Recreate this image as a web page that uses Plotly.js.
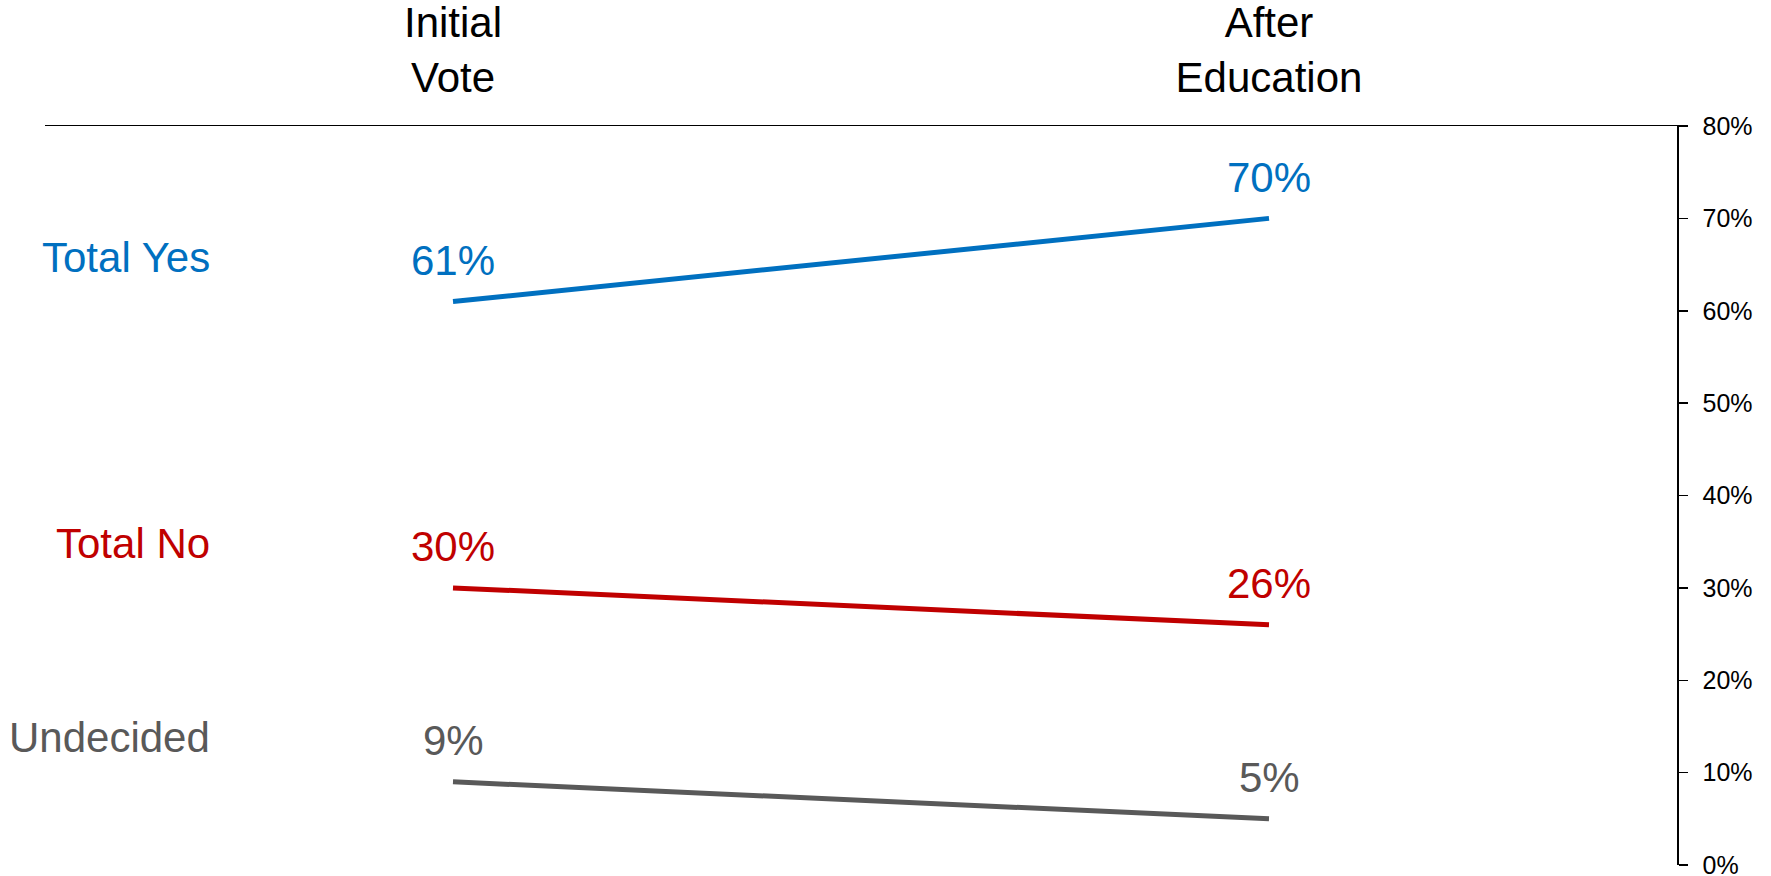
<!DOCTYPE html>
<html>
<head>
<meta charset="utf-8">
<script src="https://cdn.plot.ly/plotly-3.0.1.min.js"></script>
<style>
  html, body { margin: 0; padding: 0; background: #ffffff; }
  #chart { width: 1771px; height: 876px; }
</style>
</head>
<body>
<div id="chart"></div>
<script>
// ---- data ----
const categories = ["Initial Vote", "After Education"];
const categoryLabels = ["Initial<br>Vote", "After<br>Education"];
const seriesNames = ["Total Yes", "Total No", "Undecided"];
const totalYes = [61, 70];
const totalNo = [30, 26];
const undecided = [9, 5];
const seriesColors = ["#0070C0", "#C00000", "#595959"];
const yTickVals = [0, 10, 20, 30, 40, 50, 60, 70, 80];
const yTickText = ["0%", "10%", "20%", "30%", "40%", "50%", "60%", "70%", "80%"];

const seriesValues = [totalYes, totalNo, undecided];
const FONT = "Liberation Sans, Arial, sans-serif";
const BIG = 42;

const traces = seriesValues.map((vals, i) => ({
  type: "scatter",
  mode: "lines",
  x: categories,
  y: vals,
  name: seriesNames[i],
  line: { color: seriesColors[i], width: 5 },
  hoverinfo: "skip",
  showlegend: false
}));

const annotations = [];
seriesValues.forEach((vals, i) => {
  vals.forEach((v, j) => {
    annotations.push({
      x: categories[j], y: v, xref: "x", yref: "y",
      text: v + "%", showarrow: false,
      xanchor: "center", yanchor: "middle", yshift: 41,
      font: { family: FONT, size: BIG, color: seriesColors[i] }
    });
  });
  annotations.push({
    x: 0.1025, xref: "paper", y: vals[0], yref: "y",
    text: seriesNames[i], showarrow: false,
    xanchor: "right", yanchor: "middle", yshift: 44,
    font: { family: FONT, size: BIG, color: seriesColors[i] }
  });
});

const layout = {
  width: 1771, height: 876,
  margin: { l: 45, r: 94, t: 126, b: 11 },
  paper_bgcolor: "#ffffff",
  plot_bgcolor: "#ffffff",
  font: { family: FONT, color: "#000000" },
  xaxis: {
    type: "category",
    side: "top",
    range: [-0.5, 1.5],
    tickvals: categories,
    ticktext: categoryLabels,
    ticks: "",
    showgrid: false,
    zeroline: false,
    showline: true,
    linecolor: "#000000",
    linewidth: 1.5,
    ticklabelstandoff: 16,
    tickfont: { family: FONT, size: BIG, color: "#000000" },
    fixedrange: true
  },
  yaxis: {
    side: "right",
    range: [0, 80],
    tickvals: yTickVals,
    ticktext: yTickText,
    ticks: "outside",
    ticklen: 9,
    tickwidth: 1.5,
    tickcolor: "#000000",
    showgrid: false,
    zeroline: false,
    showline: true,
    linecolor: "#000000",
    linewidth: 1.5,
    ticklabelstandoff: 10,
    ticklabeloverflow: "allow",
    tickfont: { family: FONT, size: 25, color: "#000000" },
    fixedrange: true
  },
  annotations: annotations,
  showlegend: false
};

Plotly.newPlot("chart", traces, layout, { displayModeBar: false, staticPlot: true });
</script>
</body>
</html>
